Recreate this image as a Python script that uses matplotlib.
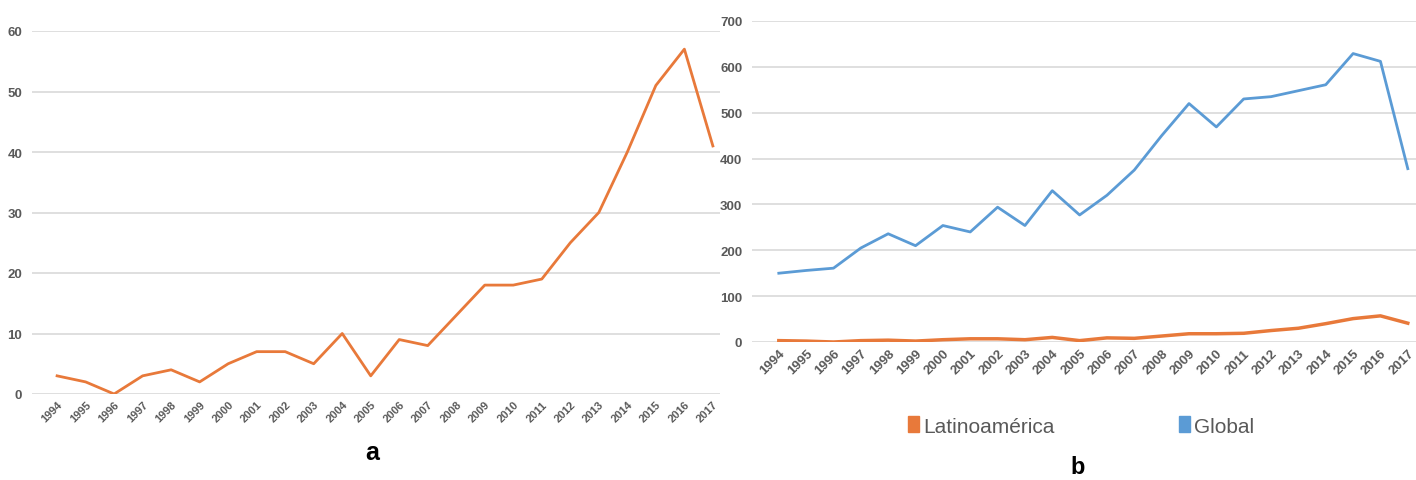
"""Publicaciones por año: Latinoamérica (a) y comparación con el total global (b)"""
from matplotlib import pyplot as plt
from matplotlib.patches import Patch

plt.rcParams['font.family'] = ['Liberation Sans', 'DejaVu Sans']

years = [str(y) for y in range(1994, 2018)]
latam = [3, 2, 0, 3, 4, 2, 5, 7, 7, 5, 10, 3, 9, 8, 13, 18, 18, 19, 25, 30, 40, 51, 57, 41]
global_ = [150, 156, 161, 205, 236, 210, 254, 240, 294, 254, 330, 277, 320, 375,
           450, 520, 469, 530, 535, 548, 561, 629, 612, 378]

ORANGE = "#E8793A"
BLUE = "#5B9BD5"
GRID = "#D9D9D9"
TEXT = "#595959"


def style_axes(ax, ymax, step):
    """excel-like look: horizontal grid only, no spines"""
    for s in ax.spines.values():
        s.set_visible(False)
    ax.set_ylim(0, ymax)
    ax.set_yticks(range(0, ymax + 1, step))
    ax.yaxis.grid(True, color=GRID, linewidth=1.2)
    ax.set_axisbelow(True)
    ax.tick_params(length=0, colors=TEXT, labelsize=9.5)
    ax.tick_params(axis="y", pad=7)
    ax.set_xticks(range(len(years)))
    ax.set_xticklabels(years, rotation=45, ha="right", rotation_mode="anchor",
                       fontsize=8, fontweight="bold")
    for lab in ax.get_yticklabels():
        lab.set_fontweight("bold")


fig = plt.figure(figsize=(14.16, 4.81), dpi=100)

# panel a
ax1 = fig.add_axes([32 / 1416, 86 / 481, 688 / 1416, 363 / 481])
x = range(len(years))
ax1.plot(x, latam, color=ORANGE, linewidth=2)
style_axes(ax1, 60, 10)
ax1.set_xlim(-0.88, 23.25)
fig.text(372 / 1416, 1 - 453 / 481, "a", fontsize=18, fontweight="bold",
         ha="center", va="center")

# panel b
ax2 = fig.add_axes([752 / 1416, 138 / 481, 664 / 1416, 321 / 481])
ax2.plot(x, latam, color=ORANGE, linewidth=2.5)
ax2.plot(x, global_, color=BLUE, linewidth=2)
style_axes(ax2, 700, 100)
ax2.set_xlim(-0.98, 23.3)
ax2.tick_params(axis="x", labelsize=9.5)

handles = [Patch(color=ORANGE, label="Latinoamérica"),
           Patch(color=BLUE, label="Global")]
fig.legend(handles=handles, loc="center", bbox_to_anchor=(1081 / 1416, 1 - 427 / 481),
           ncol=2, frameon=False, fontsize=15, handlelength=0.5, handleheight=0.8,
           handletextpad=0.2, columnspacing=6, labelcolor=TEXT)
fig.text(1078 / 1416, 1 - 468 / 481, "b", fontsize=17, fontweight="bold",
         ha="center", va="center")

fig.savefig("out.png", dpi=100, facecolor="white")
